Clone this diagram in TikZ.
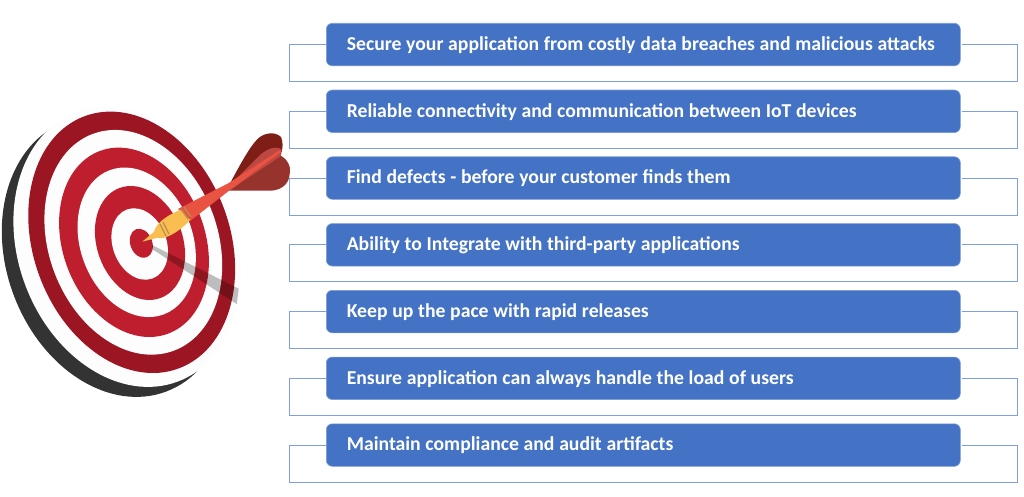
\documentclass[tikz,border=0pt]{standalone}
\usepackage{fontspec}
\setmainfont{Carlito}
\usepackage{tikz}
\usetikzlibrary{
        backgrounds,
        positioning
    }
\definecolor{goalblue}{HTML}{4472C4}
\definecolor{goalline}{HTML}{7F9FDE}
\definecolor{ringdark}{HTML}{9B1622}
\definecolor{ringred}{HTML}{BE1E2D}
\definecolor{boardback}{HTML}{333333}
\definecolor{boardface}{HTML}{FDFDFE}
\definecolor{dartgold}{HTML}{F9BE4F}
\definecolor{dartband}{HTML}{B98E50}
\definecolor{dartred}{HTML}{E85441}
\definecolor{flightdark}{HTML}{7F1E16}
\definecolor{flightmid}{HTML}{BD4842}
\definecolor{flightlow}{HTML}{96332C}
\newcommand{\goaltight}{\setlength{\spaceskip}{4.7pt}}
\tikzset{goal/.style={draw=goalblue!70!white,line width=0.6pt,fill=goalblue,rounded corners=6pt,text=white,
		minimum width=634pt,minimum height=42.5pt,text width=593pt,inner xsep=20.5pt,inner ysep=0pt,align=left,
		text height=14.5pt,text depth=3pt,
		font=\fontsize{19.7pt}{23pt}\selectfont\bfseries,execute at begin node=\goaltight}}
\tikzset{bracket/.style={draw=goalline,line width=1.1pt}}

\begin{document}
\begin{tikzpicture}[x=1pt,y=-1pt,node distance=66.75pt]
			\useasboundingbox (0,0) rectangle (1024,497);
			% board
			\fill[boardback,rotate around={20.5:(115.7,256.7)}] (115.7,256.7) ellipse [x radius=109pt,y radius=144pt];
			\fill[boardface,rotate around={20.5:(127.3,246.7)}] (127.3,246.7) ellipse [x radius=109pt,y radius=144pt];
			\foreach \cx/\cy/\rad/\col in {
					131.7/242.3/134.6/ringdark,
					133.3/242.3/115.7/boardface,
					134/242.3/97.5/ringred,
					136.7/242.3/77/boardface,
					140/243/58.7/ringred,
					139.7/244/36.8/boardface,
					141.3/243.3/15/ringred}
				\fill[\col,rotate around={20.5:(\cx,\cy)}] (\cx,\cy) ellipse [x radius=0.73*\rad pt,y radius=\rad pt];
			% shadow
			\fill[black,opacity=0.25] (152,245) -- (238.7,288.7) -- (236.7,304) -- (152,249) -- cycle;
			% flights
			\fill[flightdark] (230,183.3) .. controls (240,165) and (250,146) .. (258.3,138.3)
				.. controls (264,133) and (275,131) .. (281,137) .. controls (283,142) and (283,147) .. (281.7,151.7) -- cycle;
			\fill[flightlow] (228.3,190.7) -- (268.3,190.7) .. controls (278,191) and (286,187) .. (289,178.3)
				.. controls (290,172) and (291,168) .. (288.3,163.3) .. controls (286,159) and (283,157) .. (280,155) -- cycle;
			\fill[flightmid] (233.3,181.7) -- (258.3,156.7) .. controls (264,151) and (270,148) .. (275,147.7)
				.. controls (279,147.5) and (282,149) .. (281.7,151) .. controls (281.5,154) and (281,155) .. (280,156.7) -- (230,190) -- cycle;
			% dart
			\fill[dartred] (178,209) -- (228.3,183.3) -- (280,150) -- (281,152) -- (230,190) -- (190,221) -- cycle;
			\fill[dartgold] (142.3,241.7) -- (155,231) -- (160,237) -- cycle;
			\fill[dartgold] (154,231.5) .. controls (157,222) and (168,215) .. (180,210) -- (190,220)
				.. controls (183,228) and (170,238) .. (160,238.3) .. controls (156,238) and (154,235) .. (154,231.5) -- cycle;
			\foreach \ax/\ay/\bx/\by in {160/224/166/236,163/222/169/234,181/209/188/219,184/207/191/217}
				\draw[dartband,line width=1.3pt] (\ax,\ay) -- (\bx,\by);
			% goals
			\node[goal,anchor=north west] (g1) at (326,23) {Secure your application from costly data breaches and malicious attacks};
			\node[goal] (g2) [below of=g1] {Reliable connectivity and communication between IoT devices};
			\node[goal] (g3) [below of=g2] {Find defects - before your customer finds them};
			\node[goal] (g4) [below of=g3] {Ability to Integrate with third-party applications};
			\node[goal] (g5) [below of=g4] {Keep up the pace with rapid releases};
			\node[goal] (g6) [below of=g5] {Ensure application can always handle the load of users};
			\node[goal] (g7) [below of=g6] {Maintain compliance and audit artifacts};
			\foreach \g in {g1,g2,g3,g4,g5,g6,g7}
				\draw[bracket] (\g.west) -- ++(-36.5,0) |- ++(728,37) |- ([xshift=1.5pt]\g.east);
		\end{tikzpicture}
\end{document}
